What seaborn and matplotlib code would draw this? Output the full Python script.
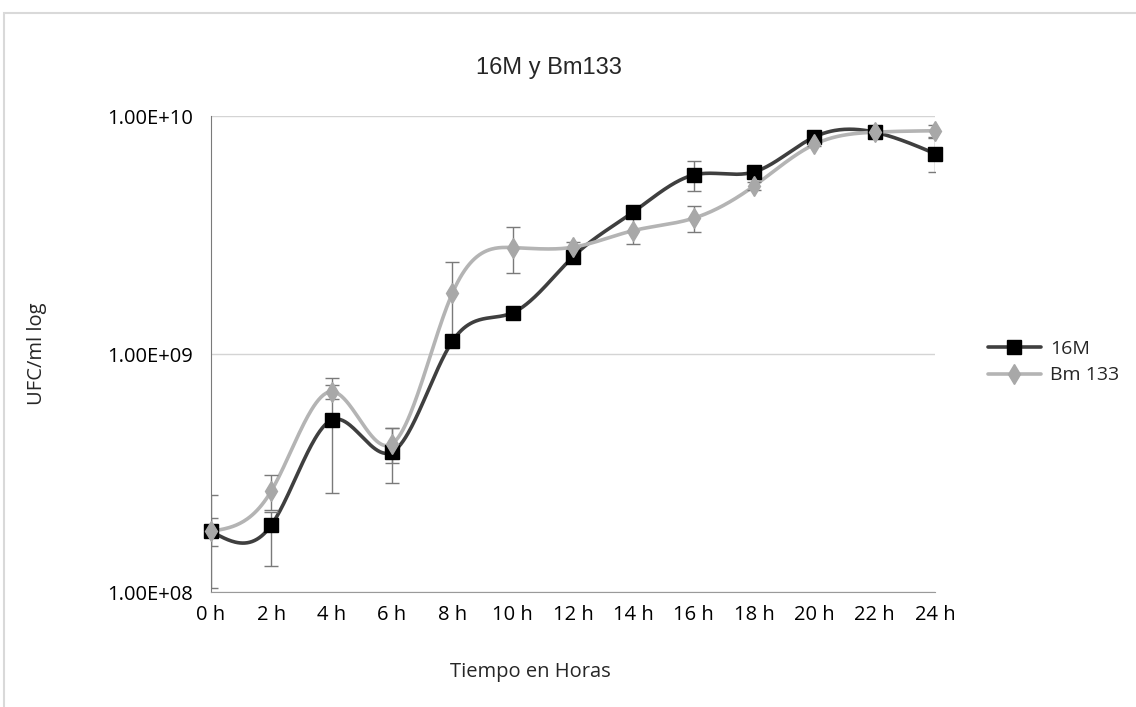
import numpy as np
import pandas as pd
import matplotlib
matplotlib.use("Agg")
import matplotlib.pyplot as plt
import seaborn as sns
from matplotlib.lines import Line2D
from matplotlib.patches import Rectangle
from matplotlib.ticker import NullLocator

# Data (UFC/ml)
hours = [0, 2, 4, 6, 8, 10, 12, 14, 16, 18, 20, 22, 24]
hour_labels = ["0 h", "2 h", "4 h", "6 h", "8 h", "10 h", "12 h",
               "14 h", "16 h", "18 h", "20 h", "22 h", "24 h"]

ufc_16m = [1.80e8, 1.91e8, 5.28e8, 3.87e8, 1.13e9, 1.49e9, 2.56e9,
           3.95e9, 5.65e9, 5.82e9, 8.16e9, 8.55e9, 6.95e9]
err_16m_low = [0.24e8, 0.63e8, 2.67e8, 1.00e8, 0, 0, 0,
               0, 0.82e9, 0, 0, 0, 1.14e9]
err_16m_high = [0.24e8, 0.26e8, 2.67e8, 1.00e8, 0, 0, 0,
                0, 0.82e9, 0, 0, 0, 1.14e9]

ufc_bm133 = [1.80e8, 2.66e8, 6.95e8, 4.19e8, 1.80e9, 2.80e9, 2.81e9,
             3.30e9, 3.72e9, 5.08e9, 7.60e9, 8.55e9, 8.67e9]
err_bm133 = [0.76e8, 0.45e8, 0.47e8, 0.72e8, 0.63e9, 0.61e9, 0.14e9,
             0.41e9, 0.47e9, 0.20e9, 0.15e9, 0.10e9, 0.50e9]

y_ticks = [1e8, 1e9, 1e10]
y_tick_labels = ["1.00E+08", "1.00E+09", "1.00E+10"]


def smooth_log(x, y, n=600):
    # natural cubic spline through the points, in log space (like the spreadsheet's smoothed line)
    x = np.asarray(x, float)
    y = np.log10(np.asarray(y, float))
    m = len(x)
    h = np.diff(x)
    A = np.zeros((m, m))
    b = np.zeros(m)
    A[0, 0] = A[-1, -1] = 1
    for i in range(1, m - 1):
        A[i, i - 1] = h[i - 1]
        A[i, i] = 2 * (h[i - 1] + h[i])
        A[i, i + 1] = h[i]
        b[i] = 3 * ((y[i + 1] - y[i]) / h[i] - (y[i] - y[i - 1]) / h[i - 1])
    c = np.linalg.solve(A, b)
    bb = (y[1:] - y[:-1]) / h - h * (2 * c[:-1] + c[1:]) / 3
    d = (c[1:] - c[:-1]) / (3 * h)
    xs = np.linspace(x[0], x[-1], n)
    idx = np.clip(np.searchsorted(x, xs) - 1, 0, m - 2)
    dx = xs - x[idx]
    ys = y[idx] + bb[idx] * dx + c[idx] * dx ** 2 + d[idx] * dx ** 3
    return xs, 10 ** ys


sns.set_style("white")
plt.rcParams['font.family'] = ['Open Sans', 'DejaVu Sans']

fig = plt.figure(figsize=(11.36, 7.07), dpi=100)
ax = fig.add_axes([211 / 1136, 1 - 592 / 707, (935 - 211) / 1136, (592 - 116) / 707])

c16 = "#3f3f3f"
cbm = "#b4b4b4"
cerr = "#7a7a7a"

xs, ys = smooth_log(hours, ufc_16m)
sns.lineplot(x=xs, y=ys, ax=ax, color=c16, lw=2.6, zorder=3)
xs, ys = smooth_log(hours, ufc_bm133)
sns.lineplot(x=xs, y=ys, ax=ax, color=cbm, lw=2.6, zorder=4)

ax.errorbar(hours, ufc_16m, yerr=[err_16m_low, err_16m_high], fmt='none',
            ecolor=cerr, elinewidth=1, capsize=5, capthick=1, zorder=5)
ax.errorbar(hours, ufc_bm133, yerr=err_bm133, fmt='none',
            ecolor=cerr, elinewidth=1, capsize=5, capthick=1, zorder=5)

ax.plot(hours, ufc_16m, ls='none', marker='s', ms=9.5, color='black', zorder=6, clip_on=False)
ax.plot(hours, ufc_bm133, ls='none', marker='d', ms=10, color='#a8a8a8', zorder=7, clip_on=False)

ax.set_yscale('log')
ax.set_ylim(1e8, 1e10)
ax.set_xlim(0, 24)
ax.set_yticks(y_ticks)
ax.set_yticklabels(y_tick_labels)
ax.yaxis.set_minor_locator(NullLocator())
ax.set_xticks(hours)
ax.set_xticklabels(hour_labels)
ax.tick_params(axis='both', labelsize=14.5, colors='#888888', labelcolor='black',
               length=7, width=1, direction='out')
ax.tick_params(axis='x', pad=2)
ax.tick_params(axis='y', pad=6)

ax.grid(axis='y', color='#d4d4d4', lw=1)
ax.grid(axis='x', visible=False)
for s in ['top', 'right']:
    ax.spines[s].set_visible(False)
ax.spines['left'].set_color('#7a7a7a')
ax.spines['bottom'].set_color('#9a9a9a')

ax.set_xlabel("Tiempo en Horas", fontsize=14.5)
ax.xaxis.set_label_coords((530 - 211) / 724, -0.148)
ax.set_ylabel("UFC/ml log", fontsize=14.5)
ax.yaxis.set_label_coords(-0.226, 0.5)

fig.text(549 / 1136, 1 - 68 / 707, "16M y Bm133", fontsize=17,
         family=['Liberation Sans', 'DejaVu Sans'], ha='center', va='center')

handles = [Line2D([], [], color=c16, lw=2.6, marker='s', ms=9.5, mfc='black', mec='black'),
           Line2D([], [], color=cbm, lw=2.6, marker='d', ms=10, mfc='#a8a8a8', mec='#a8a8a8')]
fig.legend(handles, ["16M", "Bm 133"], loc='center left',
           bbox_to_anchor=(988 / 1136, 1 - 362 / 707), frameon=False,
           borderaxespad=0, borderpad=0,
           fontsize=14, handlelength=2.7, labelspacing=0.45, handletextpad=0.5)

fig.patches.append(Rectangle((4 / 1136, -0.1), 1.2, 1.1 - 13 / 707, transform=fig.transFigure,
                             fill=False, edgecolor='#d9d9d9', lw=1.5))

fig.savefig("out.png", dpi=100, facecolor='white')
